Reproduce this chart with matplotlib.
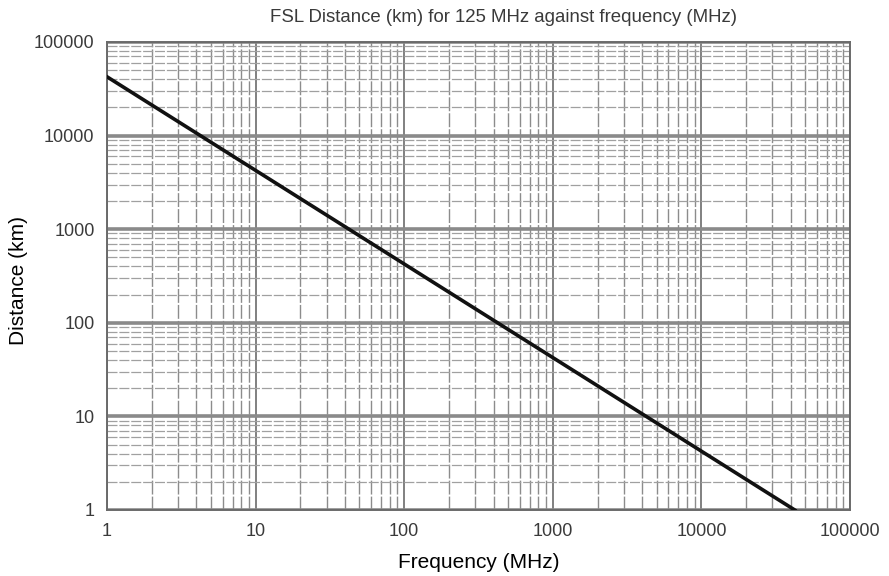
import numpy as np
import matplotlib
matplotlib.use('Agg')
import matplotlib.pyplot as plt
from matplotlib.ticker import LogLocator, FixedLocator, NullFormatter

plt.rcParams['font.family'] = ['Liberation Sans', 'DejaVu Sans']

# values
freq_mhz = [1, 10, 100, 1000, 10000, 42500]
dist_km = [42500, 4250, 425, 42.5, 4.25, 1]
decade_ticks = [1, 10, 100, 1000, 10000, 100000]
decade_labels = ['1', '10', '100', '1000', '10000', '100000']

fig = plt.figure(figsize=(8.89, 5.76), dpi=100)
ax = fig.add_axes([107/889, 1 - 510/576, (850-107)/889, (510-42)/576])

ax.set_xscale('log')
ax.set_yscale('log')
ax.set_xlim(1, 100000)
ax.set_ylim(1, 100000)

ax.xaxis.set_major_locator(FixedLocator(decade_ticks))
ax.yaxis.set_major_locator(FixedLocator(decade_ticks))
ax.set_xticklabels(decade_labels)
ax.set_yticklabels(decade_labels)
ax.xaxis.set_minor_locator(LogLocator(base=10, subs=np.arange(2, 10), numticks=50))
ax.yaxis.set_minor_locator(LogLocator(base=10, subs=np.arange(2, 10), numticks=50))
ax.xaxis.set_minor_formatter(NullFormatter())
ax.yaxis.set_minor_formatter(NullFormatter())

# horizontal decade lines are heavy, verticals stay thin
ax.yaxis.grid(True, which='major', color='#8a8a8a', lw=2.6)
ax.xaxis.grid(True, which='major', color='#808080', lw=1.4)
ax.yaxis.grid(True, which='minor', color='#a0a0a0', lw=0.9, ls=(0, (8, 1.5)))
ax.xaxis.grid(True, which='minor', color='#8c8c8c', lw=1.0, ls=(0, (10, 1.5)))
ax.tick_params(which='both', length=0, labelsize=13, colors='#3a3a3a', pad=9)

for s in ax.spines.values():
    s.set_color('#6a6a6a')
    s.set_linewidth(1.4)

ax.plot(freq_mhz, dist_km, color='#111111', lw=2.6, zorder=5)

# title sits a little right of the axes centre in the original
fig.text(504/889, 1 - 17/576, 'FSL Distance (km) for 125 MHz against frequency (MHz)',
         fontsize=13.4, color='#3a3a3a', ha='center', va='center')
ax.set_xlabel('Frequency (MHz)', fontsize=15, labelpad=10)
ax.set_ylabel('Distance (km)', fontsize=15)
ax.yaxis.set_label_coords(-0.106, 0.49)

fig.savefig('out.png', dpi=100)
